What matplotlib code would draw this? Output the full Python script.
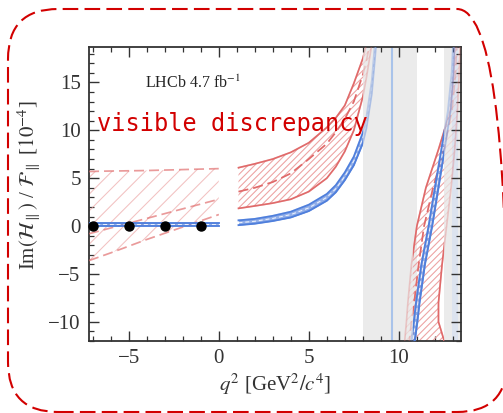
import matplotlib

matplotlib.use("Agg")
import matplotlib.pyplot as plt
import numpy as np
from matplotlib.patches import FancyBboxPatch, PathPatch
from matplotlib.path import Path
from matplotlib.ticker import MultipleLocator

# --- data ------------------------------------------------------------------
# spacelike region (q^2 < 0)
Q2_LEFT = [-7.2, -6.0, -4.0, -2.0, 0.0]
RED_LEFT_HI = [5.7, 5.75, 5.8, 5.9, 6.0]
RED_LEFT_MID = [-0.8, -0.2, 0.8, 1.8, 2.8]
RED_LEFT_LO = [-3.6, -2.8, -1.4, -0.1, 1.2]
BLUE_LEFT_HI = [0.35, 0.35, 0.35, 0.35, 0.35]
BLUE_LEFT_LO = [0.05, 0.05, 0.05, 0.05, 0.05]
BLUE_LEFT_MID = [0.2, 0.2, 0.2, 0.2, 0.2]

# below the J/psi
Q2_MID = [1.1, 2.0, 3.0, 4.0, 5.0, 6.0, 6.5, 7.0, 7.5, 8.0, 8.2, 8.5, 8.7, 8.9]
RED_MID_HI = [6.1, 6.5, 7.0, 7.7, 8.7, 10.3, 11.3, 12.6, 14.9, 17.5, 19.0, 22.0, 25.0, 28.0]
RED_MID_MID = [3.6, 4.0, 4.6, 5.5, 7.0, 8.6, 9.8, 11.2, 13.0, 15.8, 17.3, 20.0, 23.0, 26.0]
RED_MID_LO = [1.85, 2.1, 2.4, 2.8, 3.6, 5.0, 6.2, 7.8, 10.0, 13.5, 15.5, 19.0, 22.0, 25.0]
BLUE_MID_HI = [0.6, 0.75, 1.07, 1.5, 2.23, 3.35, 4.27, 5.6, 7.25, 9.75, 11.4, 15.2, 19.8, 25.0]
BLUE_MID_MID = [0.35, 0.5, 0.8, 1.2, 1.9, 3.0, 3.9, 5.2, 6.8, 9.2, 10.8, 14.5, 18.9, 24.0]
BLUE_MID_LO = [0.1, 0.25, 0.53, 0.9, 1.57, 2.65, 3.53, 4.8, 6.35, 8.65, 10.2, 13.8, 18.0, 23.0]

# between J/psi and psi(2S), given as q^2 for each value
Y_RIGHT = [-12.5, -10.0, -8.0, -4.0, 0.0, 4.0, 8.0, 12.0, 16.0, 19.5]
RED_R_LEFT = [10.3, 10.42, 10.5, 10.7, 11.0, 11.5, 12.2, 12.85, 13.05, 13.12]
RED_R_MID = [10.55, 10.7, 10.85, 11.1, 11.4, 11.9, 12.5, 12.95, 13.15, 13.22]
RED_R_RIGHT = [12.6, 12.2, 12.2, 12.4, 12.65, 12.9, 13.1, 13.25, 13.35, 13.4]
BLUE_R_LEFT = [10.65, 10.83, 10.95, 11.25, 11.65, 12.0, 12.36, 12.72, 12.93, 13.02]
BLUE_R_MID = [10.75, 10.93, 11.05, 11.35, 11.75, 12.1, 12.45, 12.8, 12.98, 13.06]
BLUE_R_RIGHT = [10.85, 11.03, 11.15, 11.45, 11.85, 12.2, 12.54, 12.88, 13.03, 13.1]
BLUE_PSI2S_BAND = [12.95, 13.3]

# measurement points
Q2_POINTS = [-7.0, -5.0, -3.0, -1.0]
VAL_POINTS = [0.0, 0.0, 0.0, 0.0]

# vetoed charmonium windows and the J/psi mass^2
VETO_WINDOWS = [(8.0, 11.0), (12.5, 14.0)]
OPEN_WINDOWS = [(-8.0, 8.0), (10.8, 12.5)]
JPSI_Q2 = 9.6

RED = "#e06a6a"
RED_HATCH = "#eda3a3"
BLUE = "#4f7fdc"
FRAME_RED = "#d20000"
INK = "#333333"

plt.rcParams["font.family"] = ["Liberation Serif", "DejaVu Serif"]
plt.rcParams["mathtext.fontset"] = "stix"
plt.rcParams["hatch.linewidth"] = 0.7


def _window_clip(ax, windows):
    verts, codes = [], []
    for lo, hi in windows:
        verts += [(lo, -100), (hi, -100), (hi, 100), (lo, 100), (lo, -100)]
        codes += [Path.MOVETO, Path.LINETO, Path.LINETO, Path.LINETO, Path.CLOSEPOLY]
    return PathPatch(Path(verts, codes), transform=ax.transData)


def _red_band(ax, x, lo, mid, hi, alpha, hatch, edge_ls, vertical=False):
    arts = []
    fill = ax.fill_betweenx if vertical else ax.fill_between
    arts.append(fill(x, lo, hi, facecolor="none", edgecolor=RED_HATCH, hatch=hatch,
                     lw=0, alpha=alpha, zorder=2))
    for arr, ls in ((lo, edge_ls), (hi, edge_ls), (mid, (0, (6, 3)))):
        xs, ys = (arr, x) if vertical else (x, arr)
        arts += ax.plot(xs, ys, color=RED, lw=1.2, ls=ls, alpha=alpha, zorder=3)
    return arts


def _blue_band(ax, x, lo, mid, hi, alpha, vertical=False):
    arts = []
    fill = ax.fill_betweenx if vertical else ax.fill_between
    arts.append(fill(x, lo, hi, color=BLUE, alpha=0.55 * alpha, lw=0, zorder=3))
    for arr in (lo, hi):
        xs, ys = (arr, x) if vertical else (x, arr)
        arts += ax.plot(xs, ys, color=BLUE, lw=1.3, alpha=alpha, zorder=4)
    xs, ys = (mid, x) if vertical else (x, mid)
    arts += ax.plot(xs, ys, color="white", lw=0.7, ls=(0, (4, 3)), alpha=0.8 * alpha, zorder=4)
    return arts


def _draw_models(ax, faded):
    a = 0.3 if faded else 1.0
    arts = []
    arts += _red_band(ax, Q2_LEFT, RED_LEFT_LO, RED_LEFT_MID, RED_LEFT_HI, 0.6 * a, "//", (0, (6, 3)))
    arts += _red_band(ax, Q2_MID, RED_MID_LO, RED_MID_MID, RED_MID_HI, a, "/////", "-")
    arts += _red_band(ax, Y_RIGHT, RED_R_LEFT, RED_R_MID, RED_R_RIGHT, a, "/////", "-", vertical=True)
    arts += _blue_band(ax, Q2_LEFT, BLUE_LEFT_LO, BLUE_LEFT_MID, BLUE_LEFT_HI, a)
    arts += _blue_band(ax, Q2_MID, BLUE_MID_LO, BLUE_MID_MID, BLUE_MID_HI, a)
    arts += _blue_band(ax, Y_RIGHT, BLUE_R_LEFT, BLUE_R_MID, BLUE_R_RIGHT, a, vertical=True)
    return arts


def main() -> None:
    fig = plt.figure(figsize=(5.03, 4.13), dpi=100)
    ax = fig.add_axes([0.177, 0.1743, 0.7395, 0.7119])

    for lo, hi in VETO_WINDOWS:
        ax.axvspan(lo, hi, color="#ebebeb", lw=0, zorder=0)
    ax.axvspan(*BLUE_PSI2S_BAND, color="#d3dff2", alpha=0.6, lw=0, zorder=1)
    ax.axvline(JPSI_Q2, color="#a9c3ea", lw=1.5, zorder=1)

    _draw_models(ax, faded=True)
    clip = _window_clip(ax, OPEN_WINDOWS)
    for art in _draw_models(ax, faded=False):
        art.set_clip_path(clip)

    ax.plot(Q2_POINTS, VAL_POINTS, "o", color="black", ms=6.5, zorder=6, clip_on=False)

    ax.text(-4.1, 14.9, r"LHCb 4.7 fb$^{-1}$", fontsize=11.5, color="#222222", va="center")

    ax.set_xlim(-7.2, 13.45)
    ax.set_ylim(-12.0, 18.7)
    ax.xaxis.set_major_locator(MultipleLocator(5))
    ax.xaxis.set_minor_locator(MultipleLocator(1))
    ax.yaxis.set_major_locator(MultipleLocator(5))
    ax.yaxis.set_minor_locator(MultipleLocator(1))
    ax.tick_params(which="both", direction="in", top=True, right=True, colors=INK,
                   labelsize=15, pad=6)
    ax.tick_params(which="major", length=7, width=1.0)
    ax.tick_params(which="minor", length=3.5, width=0.9)
    for sp in ax.spines.values():
        sp.set_color(INK)
        sp.set_linewidth(1.3)

    ax.set_xlabel(r"$q^2$ [GeV$^2/c^4$]", fontsize=15, color=INK, labelpad=2)
    ax.set_ylabel(r"Im$(\mathcal{H}_\parallel)$ / $\mathcal{F}_\parallel$ [$10^{-4}$]",
                  fontsize=15, color=INK)
    ax.yaxis.set_label_coords(-0.125, 0.53)

    # annotation overlay
    frame = FancyBboxPatch((0.08, 0.01), 4.99, 4.03, boxstyle="round,pad=0,rounding_size=0.5",
                           transform=fig.dpi_scale_trans, facecolor="none", edgecolor=FRAME_RED,
                           lw=1.5, ls=(0, (7.5, 3.0)), zorder=20)
    fig.add_artist(frame)
    fig.text(97 / 503, 1 - 131.5 / 413, "visible discrepancy", family="DejaVu Sans Mono",
             fontsize=17, color=FRAME_RED, va="baseline", zorder=21)

    fig.savefig("out.png", dpi=100, facecolor="white")
    plt.close(fig)


if __name__ == "__main__":
    main()
